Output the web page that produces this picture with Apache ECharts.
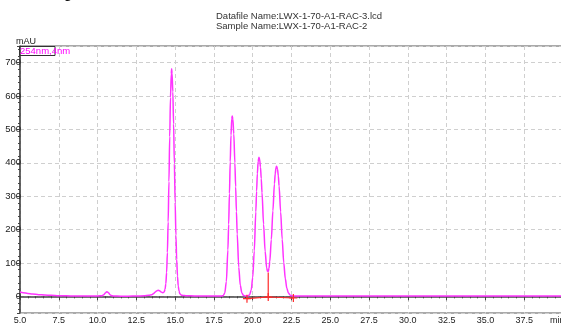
<!DOCTYPE html>
<html>
<head>
<meta charset="utf-8">
<script src="https://cdn.jsdelivr.net/npm/echarts@6/dist/echarts.min.js"></script>
<style>
html,body{margin:0;padding:0;background:#fff;}
#chart{width:561px;height:329px;}
</style>
</head>
<body>
<div id="chart"></div>
<script>
// Retention time (min)
const retentionTimes = [
  5.0,5.2,5.5,5.8,6.2,6.6,7.0,7.5,8.0,8.5,9.0,9.5,10.0,10.3,10.4,10.5,10.6,10.7,10.8,10.9,
  11.0,11.5,12.0,12.5,13.0,13.3,13.5,13.6,13.7,13.8,13.9,14.0,14.1,14.2,14.25,14.3,14.35,14.4,14.45,14.5,
  14.55,14.6,14.65,14.7,14.75,14.775,14.8,14.85,14.9,14.95,15.0,15.05,15.1,15.15,15.2,15.25,15.3,15.4,15.5,15.7,
  16.0,16.5,17.0,17.5,18.0,18.1,18.2,18.3,18.4,18.45,18.5,18.55,18.6,18.65,18.68,18.72,18.78,18.85,18.9,18.95,
  19.0,19.1,19.2,19.3,19.4,19.5,19.6,19.7,19.8,19.9,20.0,20.1,20.2,20.25,20.3,20.35,20.4,20.45,20.5,20.55,
  20.6,20.7,20.8,20.9,20.95,21.0,21.05,21.1,21.2,21.3,21.4,21.45,21.5,21.54,21.6,21.65,21.7,21.8,21.9,22.0,
  22.1,22.2,22.3,22.4,22.5,22.7,23.0,25.0,27.5,30.0,32.5,35.0,37.5,40.0
];
// Absorbance (mAU) at 254nm
const absorbance = [
  13,11,8.5,7,5,4,3,2,1.5,1,1,1,1,2,5,10,14,11,5,2,
  1,0.5,0.5,0.8,1.5,3,5,8,12,16,18,16.5,13,11,11.5,14,21,38,71,131,
  223,344,479,596,666,682,668,613,516,398,282,183,110,61,31,16,8,3.5,2.5,2,
  1.5,1,0.8,0.8,1,2,10,44,139,216,308,403,483,532,540,531,487,400,328,254,
  187,87,33,10,3,1.2,1,1.4,5,18,56,136,253,315,368,404,417,409,387,353,
  310,216,135,85,75,74,84,104,170,256,337,367,385,390,381,361,331,253,171,101,
  53,24,10,4,1.5,0.8,0.8,0.8,1,1,1,1,1,1
];
// Integration baseline marks
const baselineTimes = [19.63, 21.0, 22.62];
const baselineValues = [-7, -2, -5];
// Perpendicular drop line
const dropTimes = [21.0, 21.0];
const dropValues = [-2, 71];

const xTickLabels = ['5.0','7.5','10.0','12.5','15.0','17.5','20.0','22.5','25.0','27.5','30.0','32.5','35.0','37.5'];

const curve = retentionTimes.map((t, i) => [t, absorbance[i]]);
const baseline = baselineTimes.map((t, i) => [t, baselineValues[i]]);
const drop = dropTimes.map((t, i) => [t, dropValues[i]]);

const chart = echarts.init(document.getElementById('chart'), null, {renderer: 'canvas'});
const FONT = '"Liberation Sans", Arial, sans-serif';
const crossPath = 'path://M-0.6,-4 H0.6 V-0.6 H4 V0.6 H0.6 V4 H-0.6 V0.6 H-4 V-0.6 H-0.6 Z';

chart.setOption({
  animation: false,
  backgroundColor: '#ffffff',
  grid: {left: 20, top: 46, right: -2, bottom: 16, show: true, borderColor: '#555', borderWidth: 1,
         containLabel: false, outerBoundsMode: 'none'},
  xAxis: {
    type: 'value', min: 5, max: 40, interval: 2.5,
    axisLine: {show: true, lineStyle: {color: '#444', width: 1.5}},
    axisTick: {show: true, length: 4, lineStyle: {color: '#444'}},
    minorTick: {show: true, splitNumber: 5, length: 2, lineStyle: {color: '#444'}},
    axisLabel: {
      fontFamily: FONT, fontSize: 9, color: '#222', margin: 3,
      formatter: v => { const s = v.toFixed(1); return xTickLabels.indexOf(s) >= 0 ? s : ''; }
    },
    splitLine: {show: true, lineStyle: {color: '#cfcfcf', type: [4, 3], width: 1}}
  },
  yAxis: {
    type: 'value', min: -50, max: 750, splitNumber: 8,
    axisLine: {show: true, lineStyle: {color: '#444', width: 1.5}},
    axisTick: {show: true, length: 3, lineStyle: {color: '#444'}},
    minorTick: {show: true, splitNumber: 5, length: 2, lineStyle: {color: '#444'}},
    axisLabel: {
      fontFamily: FONT, fontSize: 9.5, color: '#222', margin: -1,
      formatter: v => (v < 0 || v > 700) ? '' : String(v)
    },
    splitLine: {show: true, lineStyle: {color: '#cfcfcf', type: [4, 3], width: 1}}
  },
  series: [
    {
      type: 'line', data: curve, showSymbol: false, smooth: 0.3, smoothMonotone: 'x',
      lineStyle: {color: '#ff33ff', width: 1.5}, z: 3
    },
    {
      type: 'line', data: baseline, symbol: crossPath, symbolSize: 8, showSymbol: true,
      itemStyle: {color: '#ff2a2a'}, lineStyle: {color: '#ff2a2a', width: 1.2}, z: 4
    },
    {
      type: 'line', data: drop, showSymbol: false,
      lineStyle: {color: '#ff2a2a', width: 1.2}, z: 4
    }
  ],
  graphic: [
    {type: 'text', left: 0, top: -13, style: {text: 'Chromatogram', font: 'bold 13.5px ' + FONT, fill: '#111'}},
    {type: 'text', left: 216, top: 11, style: {text: 'Datafile Name:LWX-1-70-A1-RAC-3.lcd', font: '9.5px ' + FONT, fill: '#333'}},
    {type: 'text', left: 216, top: 21.5, style: {text: 'Sample Name:LWX-1-70-A1-RAC-2', font: '9.5px ' + FONT, fill: '#333'}},
    {type: 'text', left: 16, top: 37, style: {text: 'mAU', font: '9px ' + FONT, fill: '#222'}},
    {type: 'rect', shape: {x: 19.5, y: 46.5, width: 35.5, height: 9}, style: {fill: 'none', stroke: '#333', lineWidth: 1}, z: 10},
    {type: 'text', left: 20, top: 46.5, style: {text: '254nm,4nm', font: '9.5px ' + FONT, fill: '#ff00ff'}, z: 11},
    {type: 'text', left: 550, top: 316.5, style: {text: 'min', font: '9px ' + FONT, fill: '#222'}}
  ]
});
</script>
</body>
</html>
